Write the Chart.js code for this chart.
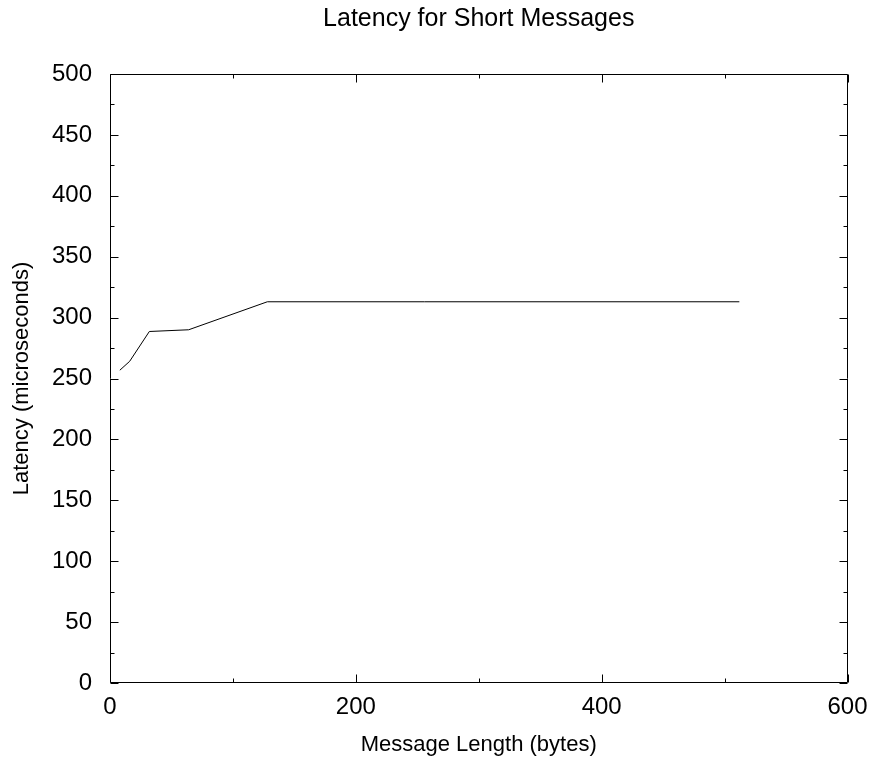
<!DOCTYPE html>
<html>
<head>
<meta charset="utf-8">
<script src="https://cdn.jsdelivr.net/npm/chart.js@4.4.1/dist/chart.umd.min.js"></script>
<style>
  html, body { margin: 0; padding: 0; background: #fff; }
  #wrap { width: 874px; height: 759px; }
</style>
</head>
<body>
<div id="wrap"><canvas id="c" width="874" height="759"></canvas></div>
<script>
// Data
const messageLengths = [8, 16, 32, 64, 128, 256, 512];
const latencies = [256.8, 264.1, 288.6, 290.0, 313.0, 313.0, 313.0];
const xMajorTicks = [0, 200, 400, 600];
const xMinorTicks = [100, 300, 500];
const yMajorTicks = [0, 50, 100, 150, 200, 250, 300, 350, 400, 450, 500];
const yMinorTicks = [25, 75, 125, 175, 225, 275, 325, 375, 425, 475];

const FONT = "'Liberation Sans', Arial, Helvetica, sans-serif";

const frameTicks = {
  id: 'frameTicks',
  afterLayout(chart) {
    // centre the title over the plot area, as in the reference
    if (chart.titleBlock) {
      chart.titleBlock.left = chart.chartArea.left;
      chart.titleBlock.right = chart.chartArea.right;
    }
  },
  afterDraw(chart) {
    const { ctx, chartArea: a, scales } = chart;
    const xs = scales.x, ys = scales.y;
    ctx.save();
    ctx.strokeStyle = '#000';
    ctx.lineWidth = 1;
    const L = Math.round(a.left) + 0.5, R = Math.round(a.right) - 0.5;
    const T = Math.round(a.top) + 0.5, B = Math.round(a.bottom) - 0.5;
    ctx.beginPath();
    ctx.rect(L, T, R - L, B - T);
    ctx.stroke();
    ctx.beginPath();
    const xt = (v, len) => {
      const p = Math.round(xs.getPixelForValue(v)) + 0.5;
      ctx.moveTo(p, B); ctx.lineTo(p, B - len);
      ctx.moveTo(p, T); ctx.lineTo(p, T + len);
    };
    const yt = (v, len) => {
      const p = Math.round(ys.getPixelForValue(v)) + 0.5;
      ctx.moveTo(L, p); ctx.lineTo(L + len, p);
      ctx.moveTo(R, p); ctx.lineTo(R - len, p);
    };
    xMajorTicks.forEach(v => xt(v, 8));
    xMinorTicks.forEach(v => xt(v, 4));
    yMajorTicks.forEach(v => yt(v, 8));
    yMinorTicks.forEach(v => yt(v, 4));
    ctx.stroke();
    ctx.restore();
  }
};

new Chart(document.getElementById('c'), {
  type: 'line',
  data: {
    datasets: [{
      data: messageLengths.map((x, i) => ({ x, y: latencies[i] })),
      borderColor: '#000',
      borderWidth: 1,
      pointRadius: 0,
      tension: 0,
      fill: false
    }]
  },
  options: {
    responsive: false,
    animation: false,
    devicePixelRatio: 1,
    layout: { padding: { left: 0, right: 26.5, top: 0, bottom: 0 } },
    plugins: {
      legend: { display: false },
      tooltip: { enabled: false },
      title: {
        display: true,
        text: 'Latency for Short Messages',
        color: '#000',
        font: { family: FONT, size: 25, weight: 'normal' },
        padding: { top: 4.5, bottom: 39.5 }
      }
    },
    scales: {
      x: {
        type: 'linear',
        min: 0, max: 600,
        grid: { display: false, drawTicks: false },
        border: { display: false },
        afterBuildTicks: s => { s.ticks = xMajorTicks.map(v => ({ value: v })); },
        afterFit: s => { s.height = 76; s.paddingLeft = 0; s.paddingRight = 0; },
        ticks: {
          color: '#000',
          padding: 10,
          maxRotation: 0,
          font: { family: FONT, size: 24 }
        },
        title: {
          display: true,
          text: 'Message Length (bytes)',
          color: '#000',
          font: { family: FONT, size: 22 },
          padding: { top: 0, bottom: 0.8 }
        }
      },
      y: {
        type: 'linear',
        min: 0, max: 500,
        grid: { display: false, drawTicks: false },
        border: { display: false },
        afterBuildTicks: s => { s.ticks = yMajorTicks.map(v => ({ value: v })); },
        afterFit: s => { s.width = 110; s.paddingTop = 0; s.paddingBottom = 0; },
        ticks: {
          color: '#000',
          padding: 18,
          font: { family: FONT, size: 24 }
        },
        title: {
          display: true,
          text: 'Latency (microseconds)',
          color: '#000',
          font: { family: FONT, size: 22 },
          padding: { top: 8.3, bottom: 0 }
        }
      }
    }
  },
  plugins: [frameTicks]
});
</script>
</body>
</html>
